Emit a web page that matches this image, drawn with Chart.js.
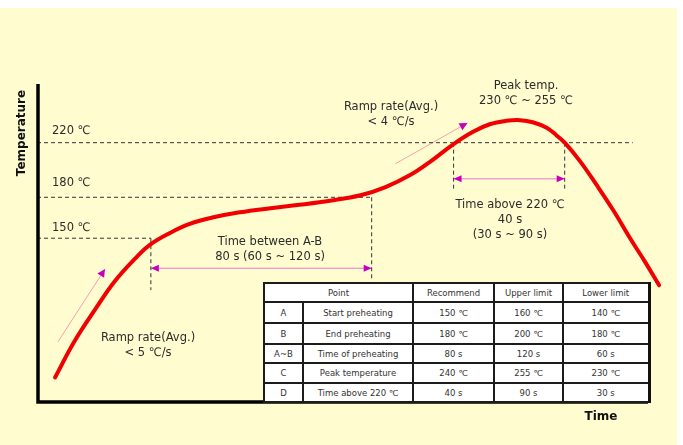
<!DOCTYPE html>
<html>
<head>
<meta charset="utf-8">
<script src="https://cdn.jsdelivr.net/npm/chart.js@4"></script>
<style>
  body { margin: 0; background: #fff; }
  #wrap { position: relative; width: 683px; height: 445px; }
  #bg { position: absolute; left: 0; top: 8px; width: 677px; height: 437px; background: #fffdd0; }
  #c { position: absolute; left: 0; top: 0; }
  #tbl {
    position: absolute; left: 263px; top: 282px; width: 385px; height: 120px;
    border-collapse: collapse; border: 2px solid #111; border-right-width: 3px;
    font-family: "DejaVu Sans", Verdana, sans-serif; font-size: 8.5px; color: #333;
    background: #fff; table-layout: fixed;
  }
  #tbl td { border: 2px solid #1c1c1c; text-align: center; padding: 0; }
</style>
</head>
<body>
<div id="wrap">
  <div id="bg"></div>
  <canvas id="c" width="683" height="445"></canvas>
  <table id="tbl"></table>
</div>
<script>
// reflow profile, time in s, temperature in deg C
var timeS = [6.5, 13.5, 21, 28, 35.5, 40.5, 48, 55, 64, 73, 84, 94.5, 105.5, 116.5, 125.5, 134.5, 141.5, 150, 157, 163, 169, 174, 178.5, 183.5, 187, 190, 195.5, 201.5, 207.5, 214, 219, 224];
var tempC = [48, 74.5, 98, 118.5, 135.5, 145, 154, 160.5, 165.5, 169, 172, 174.5, 177.5, 181.5, 187.5, 196.5, 206, 219, 228, 233.5, 236, 236.5, 235, 231, 225.5, 220, 206.5, 189, 170.5, 148.5, 132.5, 115.5];

// horizontal guide lines: temperature and where they stop
var guideTemps = [150, 180, 220];
var guideEnds = [41, 120.5, 214.5];

// vertical guide lines
var markTimes = [41, 120.5, 150, 190];
var markTops = [150, 180, 220, 220];
var markBottoms = [112, 119, 185, 185];

// double arrows (time spans)
var spanFrom = [41, 150];
var spanTo = [120.5, 190];
var spanTemp = [128, 193.5];

// ramp arrows: tail -> head
var rampTail = [[7.5, 74], [129, 204.5]];
var rampHead = [[24.5, 127.5], [155, 234.5]];

// table
var tblHead = ['Point', 'Recommend', 'Upper limit', 'Lower limit'];
var tblKey = ['A', 'B', 'A~B', 'C', 'D'];
var tblItem = ['Start preheating', 'End preheating', 'Time of preheating', 'Peak temperature', 'Time above 220 ℃'];
var tblRec = ['150 ℃', '180 ℃', '80 s', '240 ℃', '40 s'];
var tblUp = ['160 ℃', '200 ℃', '120 s', '255 ℃', '90 s'];
var tblLow = ['140 ℃', '180 ℃', '60 s', '230 ℃', '30 s'];

var FONT = '"DejaVu Sans", Verdana, sans-serif';
var TXT = '#2b2b2b';

// build the table
var t = document.getElementById('tbl');
var html = '<colgroup><col style="width:39px"><col style="width:110px"><col style="width:81px"><col style="width:69px"><col style="width:86px"></colgroup>';
html += '<tr style="height:19px"><td colspan="2">' + tblHead[0] + '</td><td>' + tblHead[1] + '</td><td>' + tblHead[2] + '</td><td>' + tblHead[3] + '</td></tr>';
var rowH = [21, 21, 19, 20, 19];
for (var i = 0; i < tblKey.length; i++) {
  html += '<tr style="height:' + rowH[i] + 'px"><td>' + tblKey[i] + '</td><td>' + tblItem[i] + '</td><td>' + tblRec[i] + '</td><td>' + tblUp[i] + '</td><td>' + tblLow[i] + '</td></tr>';
}
t.innerHTML = html;

var datasets = [{
  data: timeS.map(function (x, i) { return { x: x, y: tempC[i] }; }),
  borderColor: 'rgb(240, 0, 0)',
  borderWidth: 4,
  pointRadius: 0,
  tension: 0.4,
  borderCapStyle: 'round',
  clip: false,
  order: 0
}];

function seg(a, b, color, width, dash) {
  datasets.push({
    data: [a, b],
    borderColor: color,
    borderWidth: width,
    borderDash: dash || [],
    pointRadius: 0,
    order: 1
  });
}

guideTemps.forEach(function (v, i) {
  seg({ x: 0, y: v }, { x: guideEnds[i], y: v }, '#333', 1, [4, 3]);
});
markTimes.forEach(function (v, i) {
  seg({ x: v, y: markTops[i] }, { x: v, y: markBottoms[i] }, '#333', 1, [4, 3]);
});
spanFrom.forEach(function (v, i) {
  seg({ x: v, y: spanTemp[i] }, { x: spanTo[i], y: spanTemp[i] }, 'rgb(228, 120, 205)', 1);
});
rampTail.forEach(function (p, i) {
  seg({ x: p[0], y: p[1] }, { x: rampHead[i][0], y: rampHead[i][1] }, 'rgb(245, 160, 175)', 1);
});

function head(ctx, x1, y1, x2, y2, len, half) {
  var a = Math.atan2(y2 - y1, x2 - x1);
  var c = Math.cos(a), s = Math.sin(a);
  ctx.beginPath();
  ctx.moveTo(x2, y2);
  ctx.lineTo(x2 - len * c + half * s, y2 - len * s - half * c);
  ctx.lineTo(x2 - len * c - half * s, y2 - len * s + half * c);
  ctx.closePath();
  ctx.fill();
}

var labels = [
  { lines: ['220 ℃'], x: 52, y: 131, align: 'left' },
  { lines: ['180 ℃'], x: 52, y: 183, align: 'left' },
  { lines: ['150 ℃'], x: 52, y: 228, align: 'left' },
  { lines: ['Peak temp.', '230 ℃ ~ 255 ℃'], x: 526, y: 86 },
  { lines: ['Ramp rate(Avg.)', '< 4 ℃/s'], x: 391, y: 107 },
  { lines: ['Time above 220 ℃', '40 s', '(30 s ~ 90 s)'], x: 510, y: 205 },
  { lines: ['Time between A-B', '80 s (60 s ~ 120 s)'], x: 270, y: 242 },
  { lines: ['Ramp rate(Avg.)', '< 5 ℃/s'], x: 148, y: 338 }
];

var decor = {
  id: 'decor',
  afterDatasetsDraw: function (chart) {
    var ctx = chart.ctx, xs = chart.scales.x, ys = chart.scales.y, a = chart.chartArea;
    ctx.save();
    // axes
    ctx.strokeStyle = '#000';
    ctx.lineWidth = 3.5;
    ctx.beginPath();
    ctx.moveTo(a.left + 1, a.top);
    ctx.lineTo(a.left + 1, a.bottom);
    ctx.lineTo(a.right, a.bottom);
    ctx.stroke();

    // arrow heads
    ctx.fillStyle = 'rgb(200, 0, 190)';
    for (var i = 0; i < spanFrom.length; i++) {
      var y = ys.getPixelForValue(spanTemp[i]);
      var l = xs.getPixelForValue(spanFrom[i]), r = xs.getPixelForValue(spanTo[i]);
      head(ctx, r, y, l, y, 8, 3.5);
      head(ctx, l, y, r, y, 8, 3.5);
    }
    for (var j = 0; j < rampTail.length; j++) {
      head(ctx, xs.getPixelForValue(rampTail[j][0]), ys.getPixelForValue(rampTail[j][1]),
        xs.getPixelForValue(rampHead[j][0]), ys.getPixelForValue(rampHead[j][1]), 8, 4);
    }

    // text
    ctx.fillStyle = TXT;
    ctx.font = '11.5px ' + FONT;
    ctx.textBaseline = 'middle';
    labels.forEach(function (lb) {
      ctx.textAlign = lb.align || 'center';
      lb.lines.forEach(function (s, k) {
        ctx.fillText(s, lb.x, lb.y + k * 15);
      });
    });

    ctx.font = 'bold 12px ' + FONT;
    ctx.fillStyle = '#111';
    ctx.textAlign = 'center';
    ctx.fillText('Time', 601, 417);
    ctx.translate(22, 133);
    ctx.rotate(-Math.PI / 2);
    ctx.fillText('Temperature', 0, 0);
    ctx.restore();
  }
};

var chart = new Chart(document.getElementById('c'), {
  type: 'line',
  data: { datasets: datasets },
  options: {
    responsive: false,
    animation: false,
    layout: { padding: { left: 37, right: 35, top: 84, bottom: 43 } },
    plugins: { legend: { display: false }, tooltip: { enabled: false } },
    scales: {
      x: { type: 'linear', min: 0, max: 220, display: false },
      y: { min: 30, max: 263, display: false }
    }
  },
  plugins: [decor]
});
</script>
</body>
</html>
